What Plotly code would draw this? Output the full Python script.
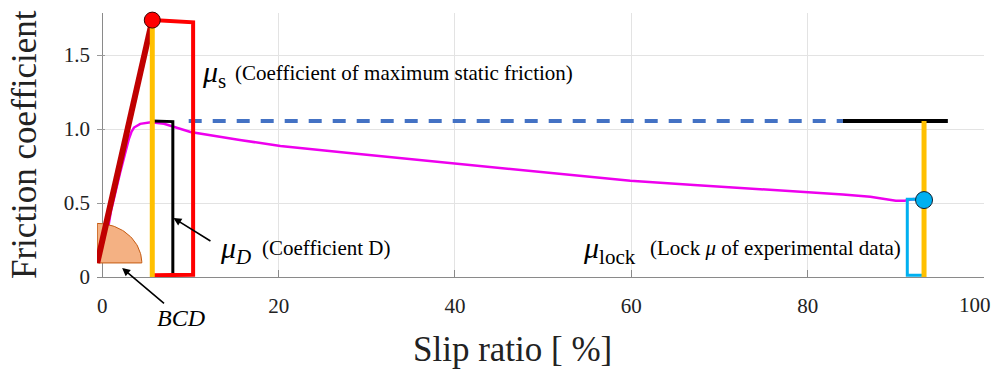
import numpy as np
import plotly.graph_objects as go

# ---- data ----
slip = [0, 1.0, 2.0, 2.6, 3.0, 3.3, 3.6, 4.3, 5.5, 7.0, 10.0, 15.6, 20.2, 27.7, 35.3,
        39.8, 46.6, 52.7, 56.5, 59.9, 67.1, 74.0, 79.9, 84.0, 87.1, 88.5, 90.0, 91.0,
        92.0, 93.2]
mu = [0.10, 0.45, 0.70, 0.85, 0.93, 0.98, 1.01, 1.035, 1.045, 1.035, 0.98, 0.926,
      0.885, 0.84, 0.795, 0.768, 0.73, 0.689, 0.667, 0.65, 0.622, 0.597, 0.572,
      0.558, 0.543, 0.53, 0.515, 0.516, 0.527, 0.52]

x_ticks = [0, 20, 40, 60, 80, 100]
x_tick_labels = ["0", "20", "40", "60", "80", "100"]
y_ticks = [0, 0.5, 1.0, 1.5]
y_tick_labels = ["0", "0.5", "1.0", "1.5"]

origin = [-0.57, 0.095]          # start of the BCD slope
peak_x, mu_s = 5.67, 1.736       # maximum static friction point
mu_D = 1.055                     # coefficient D level
D_bracket_x = 8.0
s_bracket_x = 10.3
dash_start, dash_end = 9.8, 84.0
lock_x, mu_lock = 93.2, 0.52
lock_bar_end = 95.9
lock_bracket_x = 91.3
bcd_rx, bcd_ry = 5.05, 0.267     # BCD quarter disc radii

FONT = "Liberation Serif"

fig = go.Figure()

# experimental curve
fig.add_trace(go.Scatter(x=slip, y=mu, mode="lines",
                         line=dict(color="#EE00EE", width=2.5), hoverinfo="skip"))
# dashed mu_D level
fig.add_trace(go.Scatter(x=[dash_start, dash_end], y=[mu_D, mu_D], mode="lines",
                         line=dict(color="#4472C4", width=4, dash="13px,11px")))
# black level at lock side
fig.add_trace(go.Scatter(x=[dash_end, lock_bar_end], y=[mu_D, mu_D], mode="lines",
                         line=dict(color="black", width=4)))
# black bracket mu_D
fig.add_trace(go.Scatter(x=[peak_x, D_bracket_x, D_bracket_x], y=[mu_D, mu_D - 0.005, 0.012],
                         mode="lines", line=dict(color="black", width=3)))
# red bracket mu_s
fig.add_trace(go.Scatter(x=[peak_x, s_bracket_x, s_bracket_x, peak_x],
                         y=[mu_s, mu_s - 0.015, 0.015, 0.012],
                         mode="lines", line=dict(color="#FF0000", width=4)))
# BCD quarter disc
th = np.linspace(0, np.pi / 2, 40)
px_ = [origin[0]] + list(origin[0] + bcd_rx * np.cos(th)) + [origin[0]]
py_ = [origin[1]] + list(origin[1] + bcd_ry * np.sin(th)) + [origin[1]]
fig.add_trace(go.Scatter(x=px_, y=py_, mode="lines", fill="toself",
                         fillcolor="#F4B183", line=dict(color="#C55A11", width=1)))
# BCD slope
fig.add_trace(go.Scatter(x=[origin[0], peak_x], y=[origin[1], mu_s], mode="lines",
                         line=dict(color="#C00000", width=6)))
# orange verticals
fig.add_trace(go.Scatter(x=[peak_x, peak_x], y=[0, mu_s], mode="lines",
                         line=dict(color="#FFC000", width=5)))
# cyan bracket mu_lock
fig.add_trace(go.Scatter(x=[lock_x - 0.9, lock_bracket_x, lock_bracket_x, lock_x],
                         y=[mu_lock + 0.005, mu_lock + 0.005, 0.012, 0.012],
                         mode="lines", line=dict(color="#00B0F0", width=3)))
fig.add_trace(go.Scatter(x=[lock_x, lock_x], y=[0, mu_D], mode="lines",
                         line=dict(color="#FFC000", width=5)))
# markers
fig.add_trace(go.Scatter(x=[peak_x], y=[mu_s], mode="markers", cliponaxis=False,
                         marker=dict(size=16, color="#FF0000",
                                     line=dict(color="#3a0000", width=1))))
fig.add_trace(go.Scatter(x=[lock_x], y=[mu_lock], mode="markers", cliponaxis=False,
                         marker=dict(size=17, color="#00B0F0",
                                     line=dict(color="#102030", width=1))))

ann = []
def txt(x, y, text, size, **kw):
    d = dict(x=x, y=y, xref="x", yref="y", text=text, showarrow=False,
             xanchor="left", yanchor="middle",
             font=dict(family=FONT, size=size, color="black"))
    d.update(kw)
    ann.append(d)

txt(11.08, 1.372, "<i>μ</i><sub>s</sub>", 30)
txt(14.82, 1.378, "(Coefficient of maximum static friction)", 21)
txt(13.12, 0.182, "<i>μ</i><sub><i>D</i></sub>", 30)
txt(17.89, 0.196, "(Coefficient D)", 21)
txt(54.3, 0.182, "<i>μ</i><sub>lock</sub>", 30)
txt(61.9, 0.193, "(Lock <i>μ</i> of experimental data)", 21)

# arrows
ann.append(dict(x=8.07, y=0.399, xref="x", yref="y", text="", showarrow=True,
                ax=38.5, ay=24, arrowhead=2, arrowsize=1, arrowwidth=1.6,
                arrowcolor="black"))
ann.append(dict(x=2.25, y=0.061, xref="x", yref="y", text="<i>BCD</i>",
                showarrow=True, ax=59, ay=50, arrowhead=2, arrowsize=1,
                arrowwidth=1.6, arrowcolor="black",
                font=dict(family=FONT, size=24, color="black")))

# last x tick label, kept inside the page like in the reference
ann.append(dict(x=1, y=0, xref="paper", yref="paper", xshift=9, yshift=-14,
                text=x_tick_labels[-1], showarrow=False,
                xanchor="right", yanchor="top",
                font=dict(family=FONT, size=21, color="#222")))

# axis titles
ann.append(dict(x=0, y=0.5, xref="paper", yref="paper", xshift=-73,
                text="Friction coefficient", textangle=-90, showarrow=False,
                xanchor="center", yanchor="middle",
                font=dict(family=FONT, size=35, color="#222")))
ann.append(dict(x=0.468, y=-0.2765, xref="paper", yref="paper",
                text="Slip ratio [ %]", showarrow=False,
                xanchor="center", yanchor="middle",
                font=dict(family=FONT, size=35, color="#222")))

fig.update_layout(
    width=994, height=370,
    margin=dict(l=97, r=10, t=13, b=93),
    paper_bgcolor="white", plot_bgcolor="white",
    showlegend=False,
    annotations=ann,
    xaxis=dict(range=[-0.6, 100], tickvals=x_ticks,
               ticktext=x_tick_labels[:-1] + [""],
               automargin=False,
               showgrid=True, gridcolor="#E3E3E3", gridwidth=1,
               zeroline=True, zerolinecolor="#8a8a8a", zerolinewidth=1,
               showline=True, linecolor="#8a8a8a", linewidth=1,
               ticks="inside", ticklen=7, tickcolor="#8a8a8a",
               ticklabelstandoff=10,
               tickfont=dict(family=FONT, size=21, color="#222")),
    yaxis=dict(range=[0, 1.784], tickvals=y_ticks, ticktext=y_tick_labels,
               automargin=False,
               showgrid=True, gridcolor="#E3E3E3", gridwidth=1,
               zeroline=False, showline=False,
               ticks="inside", ticklen=8, tickcolor="#9a9a9a",
               ticklabelstandoff=6,
               tickfont=dict(family=FONT, size=21, color="#222")),
)

fig.write_html("out.html")
